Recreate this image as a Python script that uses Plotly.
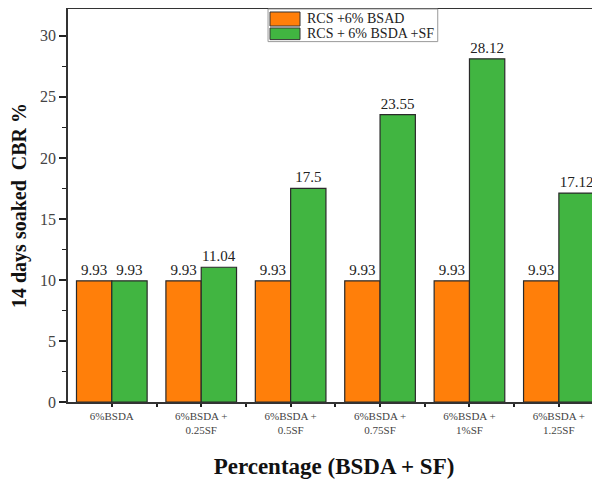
import plotly.graph_objects as go

categories = ["6%BSDA", "6%BSDA +<br>0.25SF", "6%BSDA +<br>0.5SF", "6%BSDA +<br>0.75SF",
              "6%BSDA +<br>1%SF", "6%BSDA +<br>1.25SF"]
series1_name = "RCS +6% BSAD"
series2_name = "RCS + 6% BSDA +SF"
series1 = [9.93, 9.93, 9.93, 9.93, 9.93, 9.93]
series2 = [9.93, 11.04, 17.5, 23.55, 28.12, 17.12]
y_ticks = [0, 5, 10, 15, 20, 25, 30]

color1 = "#FF7F0A"
color2 = "#41B541"
xpos = list(range(len(categories)))
serif = "Liberation Serif, Times New Roman, serif"

fig = go.Figure()
fig.add_trace(go.Bar(
    x=xpos, y=series1, name=series1_name, showlegend=False,
    marker=dict(color=color1, line=dict(color="#2a2a2a", width=1.2)),
    text=[f"{v:g}" for v in series1], textposition="outside",
    textfont=dict(family=serif, size=15, color="#222"), cliponaxis=False,
))
fig.add_trace(go.Bar(
    x=xpos, y=series2, name=series2_name, showlegend=False,
    marker=dict(color=color2, line=dict(color="#2a2a2a", width=1.2)),
    text=[f"{v:g}" for v in series2], textposition="outside",
    textfont=dict(family=serif, size=15, color="#222"), cliponaxis=False,
))

# custom compact legend (paper coordinates)
fig.add_shape(type="rect", xref="paper", yref="paper", x0=0.376, x1=0.695,
              y0=0.917, y1=1.0, line=dict(color="#999", width=1), fillcolor="white")
fig.add_shape(type="rect", xref="paper", yref="paper", x0=0.3797, x1=0.4361,
              y0=0.9567, y1=0.9924, line=dict(color="#333", width=1), fillcolor=color1)
fig.add_shape(type="rect", xref="paper", yref="paper", x0=0.3797, x1=0.4361,
              y0=0.9221, y1=0.9517, line=dict(color="#333", width=1), fillcolor=color2)
fig.add_annotation(xref="paper", yref="paper", x=0.4455, y=0.9746, xanchor="left",
                   yanchor="middle", text=series1_name, showarrow=False,
                   font=dict(family=serif, size=14, color="#222"))
fig.add_annotation(xref="paper", yref="paper", x=0.4455, y=0.9369, xanchor="left",
                   yanchor="middle", text=series2_name, showarrow=False,
                   font=dict(family=serif, size=14, color="#222"))

fig.update_layout(
    width=592, height=471,
    margin=dict(l=60, r=0, t=1, b=77),
    paper_bgcolor="white", plot_bgcolor="white",
    barmode="group", bargap=0.21, bargroupgap=0,
    font=dict(family=serif, color="#333"),
    showlegend=False,
    xaxis=dict(
        range=[-0.49, 5.46],
        tickmode="array", tickvals=xpos, ticktext=categories,
        tickfont=dict(family=serif, size=11, color="#444"),
        ticks="outside", ticklen=3, tickwidth=1.5, tickcolor="#222",
        minor=dict(tickmode="linear", tick0=0.5, dtick=1, ticks="outside",
                   ticklen=3, tickwidth=1.5, tickcolor="#222"),
        showline=True, linecolor="#333", linewidth=1.5, mirror=True,
        showgrid=False, zeroline=False,
        title=dict(text="<b>Percentage (BSDA + SF)</b>",
                   font=dict(family=serif, size=23, color="#111"), standoff=23),
    ),
    yaxis=dict(
        range=[0, 32.2],
        tickmode="array", tickvals=y_ticks,
        tickfont=dict(family=serif, size=16, color="#444"),
        ticks="outside", ticklen=7, tickwidth=1.5, tickcolor="#222",
        minor=dict(tickmode="linear", tick0=2.5, dtick=5, ticks="outside",
                   ticklen=4, tickwidth=1.2, tickcolor="#222"),
        showline=True, linecolor="#333", linewidth=1.5,
        showgrid=False, zeroline=False,
        title=dict(text="<b>14 days soaked  CBR %</b>",
                   font=dict(family=serif, size=20, color="#111"), standoff=8),
    ),
)

fig.write_html("out.html")
